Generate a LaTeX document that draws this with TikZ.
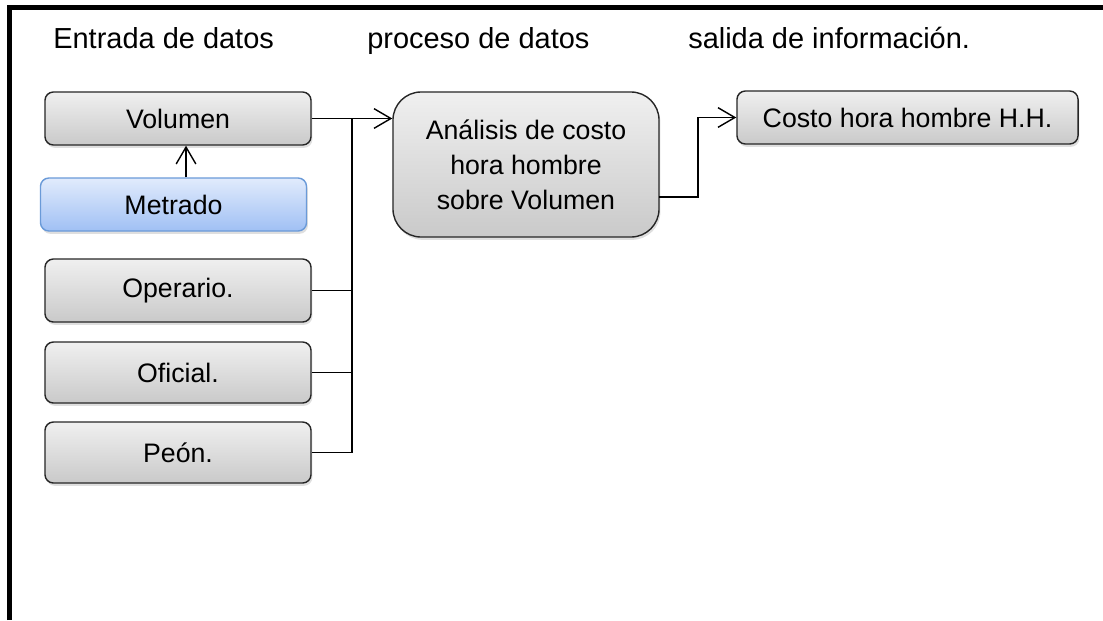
\documentclass[tikz,border=0pt]{standalone}
\usepackage{fontspec}
\setmainfont{Liberation Sans}
\usetikzlibrary{arrows.meta,shadows}

\tikzset{
  caja/.style={draw=black!85, line width=1pt, rounded corners=6pt,
    top color=gray!12, bottom color=gray!42,
    drop shadow={opacity=0.25, shadow xshift=1pt, shadow yshift=-2pt},
    minimum width=6.65cm, minimum height=1.325cm, inner sep=0pt,
    font=\fontsize{19}{24.8}\selectfont},
  cajaazul/.style={caja, draw={rgb,255:red,106;green,154;blue,216},
    top color={rgb,255:red,225;green,235;blue,252},
    bottom color={rgb,255:red,160;green,192;blue,244}},
  titulo/.style={font=\fontsize{20.6}{24}\selectfont, anchor=base west, inner sep=0pt},
  flecha/.style={line width=1pt, -{Straight Barb[length=12pt,width=14pt]}},
  linea/.style={line width=1pt}
}

\begin{document}
\begin{tikzpicture}[x=0.025cm, y=-0.025cm]
\useasboundingbox (0,0) rectangle (1103,620);

% marco
\draw[line width=3.5pt, line join=miter] (9.5,620) -- (9.5,7.5) -- (1103,7.5);

% titulos
\node[titulo] (tEntrada) at (53,48) {Entrada de datos};
\node[titulo] (tProceso) at (367,48) {proceso de datos};
\node[titulo] (tSalida) at (688,48) {salida de información.};

% entradas
\node[caja] (volumen) at (178,118.5) {Volumen};
\node[cajaazul] (metrado) at (173.5,204.5) {Metrado};
\node[caja, minimum height=1.575cm] (operario) at (178,290.5) {Operario.};
\node[caja, minimum height=1.525cm] (oficial) at (178,372.5) {Oficial.};
\node[caja, minimum height=1.525cm] (peon) at (178,452.5) {Peón.};

% proceso y salida
\node[caja, rounded corners=20pt, minimum height=3.625cm, align=center] (proceso) at (526,164.5)
  {Análisis de costo\\ hora hombre\\ sobre Volumen};
\node[caja, minimum width=8.525cm] (costo) at (907.5,117.5) {Costo hora hombre H.H.};

\coordinate (bus) at (352,118);
\coordinate (salida) at (659,197);
\coordinate (giro) at (698,117.5);

% conexiones
\draw[flecha] ([xshift=0.3125cm]metrado.north) -- ([xshift=0.3125cm]metrado.north |- volumen.south);
\draw[flecha] (volumen.east) -- (volumen.east -| proceso.west);
\draw[linea] (operario.east) -| (bus);
\draw[linea] (oficial.east) -| (bus);
\draw[linea] (peon.east) -| (bus);
\draw[flecha] (salida) -| (giro) -- (costo.west);
\end{tikzpicture}
\end{document}
